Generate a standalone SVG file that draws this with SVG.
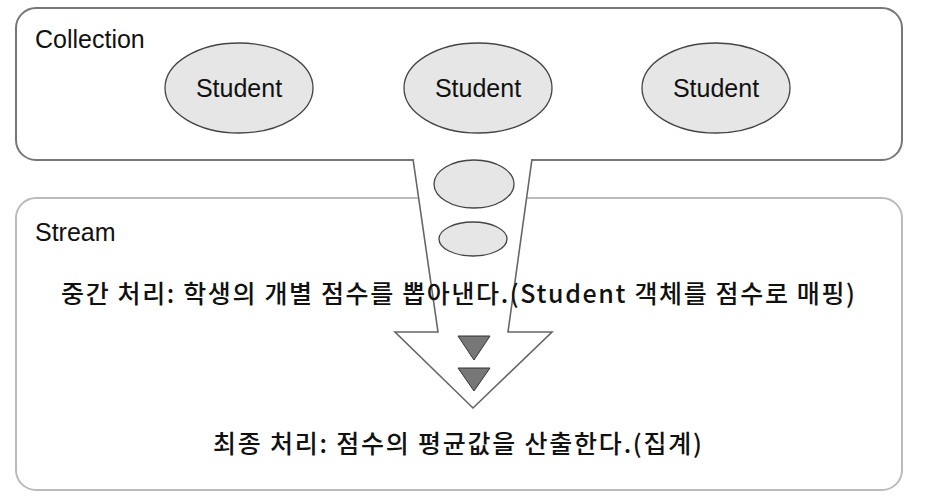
<svg xmlns="http://www.w3.org/2000/svg" width="931" height="500" viewBox="0 0 931 500">
<style>
.lbl{font-family:"Liberation Sans",Arial,sans-serif;font-size:25px;fill:#111}
.ko{font-family:"Noto Sans CJK KR","Liberation Sans",sans-serif;font-size:25px;font-weight:500;fill:#111}
.stu{fill:#e6e6e6;stroke:#444;stroke-width:1.3}
.tri{fill:#777;stroke:#333;stroke-width:1}
</style>
<rect width="931" height="500" fill="#fff"/>
<g id="stream">
<rect x="16" y="198" width="886" height="292" rx="20" ry="20" fill="#fff" stroke="#bbb" stroke-width="2"/>
<text class="lbl" x="35" y="241">Stream</text>
</g>
<g id="collection">
<rect x="16" y="8" width="886" height="152" rx="20" ry="20" fill="#fff" stroke="#777" stroke-width="2"/>
<text class="lbl" x="35" y="48">Collection</text>
</g>
<g id="student1">
<ellipse class="stu" cx="239" cy="88" rx="74" ry="45"/>
<text class="lbl" x="239" y="97" text-anchor="middle">Student</text>
</g>
<g id="student2">
<ellipse class="stu" cx="478" cy="88" rx="74" ry="45"/>
<text class="lbl" x="478" y="97" text-anchor="middle">Student</text>
</g>
<g id="student3">
<ellipse class="stu" cx="716" cy="88" rx="74" ry="45"/>
<text class="lbl" x="716" y="97" text-anchor="middle">Student</text>
</g>
<g id="connectors">
<path d="M413,159 L438,332 L395,332 L473,408 L552,332 L508,332 L532,159" fill="#fff" stroke="#666" stroke-width="1.6" stroke-linejoin="miter"/>
</g>
<g id="item1"><ellipse class="stu" cx="474" cy="184" rx="40" ry="24"/></g>
<g id="item2"><ellipse class="stu" cx="473" cy="239" rx="34" ry="17"/></g>
<g id="intermediate">
<text class="ko" x="61" y="303" textLength="794" lengthAdjust="spacing">중간 처리: 학생의 개별 점수를 뽑아낸다.(Student 객체를 점수로 매핑)</text>
</g>
<g id="marks">
<polygon class="tri" points="458,336 490,336 474,360"/>
<polygon class="tri" points="458,368 490,368 474,391"/>
</g>
<g id="terminal">
<text class="ko" x="213" y="453" textLength="489" lengthAdjust="spacing">최종 처리: 점수의 평균값을 산출한다.(집계)</text>
</g>
</svg>
